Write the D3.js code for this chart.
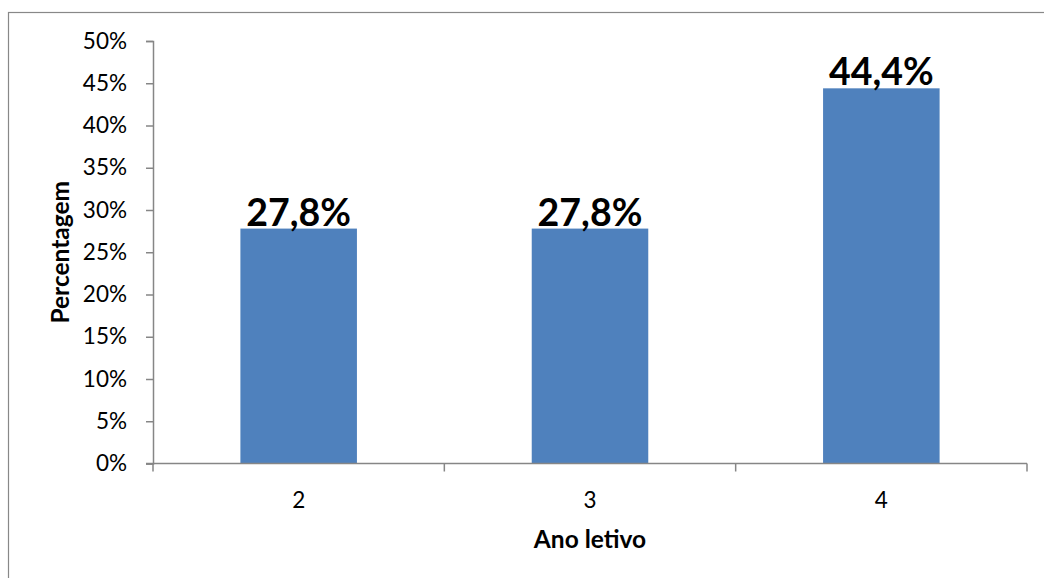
<!DOCTYPE html>
<html>
<head>
<meta charset="utf-8">
<script src="https://cdn.jsdelivr.net/npm/d3@7/dist/d3.min.js"></script>
<style>
  html, body { margin: 0; padding: 0; background: #fff; }
  svg { display: block; }
  text { font-family: Lato, "Open Sans", sans-serif; fill: #000; }
</style>
</head>
<body>
<svg id="chart" width="1044" height="578"></svg>
<script>
// Share of students by school year
const categories = ["2", "3", "4"];
const values = [27.8, 27.8, 44.4];
const valueLabels = ["27,8%", "27,8%", "44,4%"];
const yTicks = [0, 5, 10, 15, 20, 25, 30, 35, 40, 45, 50];

const svg = d3.select("#chart");
const W = 1044, H = 578;
const plotLeft = 153, plotRight = 1027, plotTop = 41, plotBottom = 463.5;
const axisColor = "#868686";

// outer chart frame (extends past the right and bottom edges)
svg.append("rect")
  .attr("x", 8.5).attr("y", 12.5)
  .attr("width", W + 20).attr("height", H + 20)
  .attr("fill", "#fff")
  .attr("stroke", "#888888")
  .attr("stroke-width", 1.2);

const x = d3.scaleBand().domain(categories).range([plotLeft, plotRight]).paddingInner(0.6).paddingOuter(0.3);
const y = d3.scaleLinear().domain([0, 50]).range([plotBottom, plotTop]);

// bars
svg.append("g").selectAll("rect")
  .data(values)
  .join("rect")
  .attr("x", (d, i) => x(categories[i]))
  .attr("width", x.bandwidth())
  .attr("y", d => y(d))
  .attr("height", d => y(0) - y(d))
  .attr("fill", "#4F81BD");

// y axis
const yAxis = d3.axisLeft(y).tickValues(yTicks).tickSize(7).tickPadding(19)
  .tickFormat(d => d + "%");
const gy = svg.append("g").attr("transform", `translate(${plotLeft},0)`).call(yAxis);
gy.select(".domain").attr("stroke", axisColor).attr("stroke-width", 1.5);
gy.selectAll(".tick line").attr("stroke", axisColor).attr("stroke-width", 1.5);
gy.selectAll(".tick text").attr("font-size", 22.5).attr("font-family", "Lato, sans-serif").attr("fill", "#000");

// x axis: boundary ticks between categories
const xEdges = d3.scaleLinear().domain([0, categories.length]).range([plotLeft, plotRight]);
const gx = svg.append("g").attr("transform", `translate(0,${plotBottom})`);
gx.append("line").attr("x1", plotLeft - 7).attr("x2", plotRight)
  .attr("y1", 0).attr("y2", 0)
  .attr("stroke", axisColor).attr("stroke-width", 1.5);
gx.selectAll("line.edge")
  .data(d3.range(categories.length + 1))
  .join("line")
  .attr("class", "edge")
  .attr("x1", d => xEdges(d)).attr("x2", d => xEdges(d))
  .attr("y1", 0).attr("y2", 8)
  .attr("stroke", axisColor).attr("stroke-width", 1.5);
gx.selectAll("text")
  .data(categories)
  .join("text")
  .attr("x", d => x(d) + x.bandwidth() / 2)
  .attr("y", 44)
  .attr("text-anchor", "middle")
  .attr("font-size", 22.5)
  .text(d => d);

// value labels above bars
svg.append("g").selectAll("text")
  .data(values)
  .join("text")
  .attr("x", (d, i) => x(categories[i]) + x.bandwidth() / 2)
  .attr("y", d => y(d) - 3)
  .attr("text-anchor", "middle")
  .attr("font-size", 37.5)
  .attr("font-weight", "bold")
  .text((d, i) => valueLabels[i]);

// axis titles
svg.append("text")
  .attr("x", (plotLeft + plotRight) / 2)
  .attr("y", 548)
  .attr("text-anchor", "middle")
  .attr("font-size", 24.5)
  .attr("font-weight", "bold")
  .text("Ano letivo");

svg.append("text")
  .attr("transform", `translate(69,${(plotTop + plotBottom) / 2}) rotate(-90)`)
  .attr("text-anchor", "middle")
  .attr("font-size", 24.5)
  .attr("font-weight", "bold")
  .text("Percentagem");
</script>
</body>
</html>
